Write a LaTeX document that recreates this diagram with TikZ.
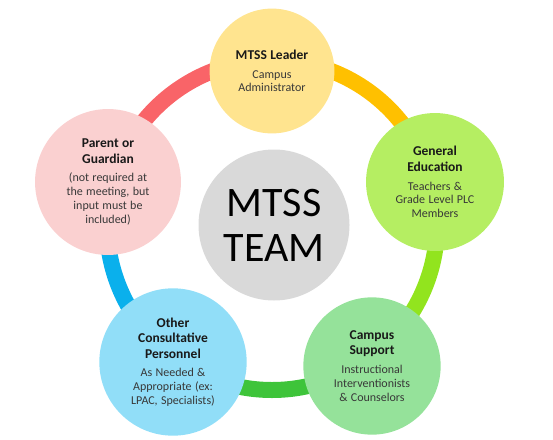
\documentclass[tikz,border=0pt]{standalone}
\usepackage{fontspec}
\setmainfont{Carlito}

\definecolor{cRouge}{HTML}{F96468}
\definecolor{cOrange}{HTML}{FFC000}
\definecolor{cLime}{HTML}{92E41E}
\definecolor{cVert}{HTML}{3EC43A}
\definecolor{cBleu}{HTML}{0AB0EC}
\definecolor{fJaune}{HTML}{FFE48F}
\definecolor{fLime}{HTML}{B5EE62}
\definecolor{fVert}{HTML}{95E29A}
\definecolor{fBleu}{HTML}{91DEF8}
\definecolor{fRose}{HTML}{FAD0D0}
\definecolor{fGris}{HTML}{D9D9D9}

\newcommand{\titre}[1]{{\fontsize{13.5}{15.5}\selectfont\bfseries #1\par}\vspace{5pt}}
\newcommand{\corps}[1]{{\fontsize{12}{13.8}\selectfont\color{black!78}#1\par}}

\begin{document}
\begin{tikzpicture}[x=1pt,y=1pt]
\tikzset{
	membre/.style={circle, minimum size=124pt, inner sep=0pt, text width=118pt, align=center, text=black!90},
	anneau/.style={line width=16pt},
}
  \useasboundingbox (0,0) rectangle (553,-439);
  \coordinate (o) at (272,-225);

  % l'anneau, par morceaux
  \draw[anneau,cOrange] ([shift={(90:165pt)}]o) arc (90:18:165pt);
  \draw[anneau,cLime] ([shift={(18:165pt)}]o) arc (18:-54:165pt);
  \draw[anneau,cVert] ([shift={(-54:165pt)}]o) arc (-54:-126:165pt);
  \draw[anneau,cBleu] ([shift={(-126:165pt)}]o) arc (-126:-198:165pt);
  \draw[anneau,cRouge] ([shift={(162:165pt)}]o) arc (162:90:165pt);

  % le centre
  \node[circle, fill=fGris, minimum size=151pt, inner sep=0pt, align=center,
        font=\fontsize{42}{45}\selectfont] (team) at (274,-225) {MTSS\\TEAM};

  % les membres
  \node[membre, fill=fJaune] (leader) at (272,-71)
    {\titre{MTSS Leader}\corps{Campus\\Administrator}};
  \node[membre, fill=fLime] (gened) at (435,-182)
    {\titre{General\\Education}\corps{Teachers \&\\Grade Level PLC\\Members}};
  \node[membre, fill=fVert] (support) at (372,-366)
    {\titre{Campus\\Support}\corps{Instructional\\Interventionists\\\& Counselors}};
  \node[membre, fill=fBleu] (autres) at (173,-362)
    {\titre{Other\\Consultative\\Personnel}\corps{As Needed \&\\Appropriate (ex:\\LPAC, Specialists)}};
  \node[membre, fill=fRose] (parent) at (108,-182)
    {\titre{Parent or\\Guardian}\corps{(not required at\\the meeting, but\\input must be\\included)}};
\end{tikzpicture}
\end{document}
